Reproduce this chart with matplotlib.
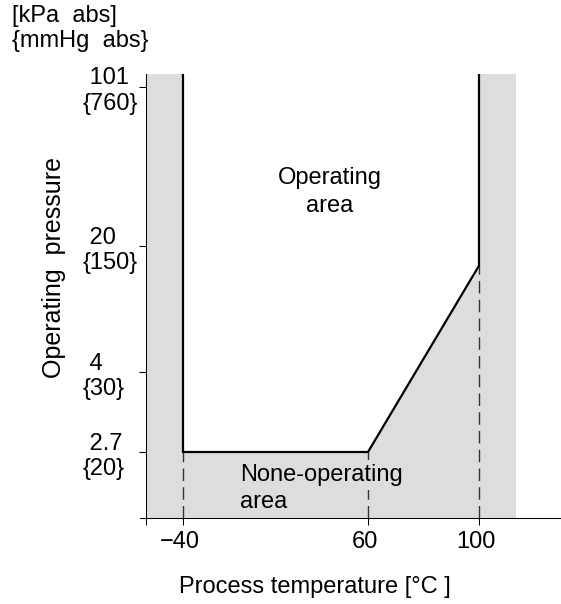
import numpy as np
import matplotlib
matplotlib.use("Agg")
import matplotlib.pyplot as plt
from matplotlib.transforms import ScaledTranslation

plt.rcParams['font.family'] = ['Liberation Sans', 'DejaVu Sans']
plt.rcParams['font.size'] = 17

# boundary of the operating area (temperature in degC, pressure in kPa abs)
boundary_temp = [-40, -40, 60, 100, 100]
boundary_kpa = [110, 2.7, 2.7, 17.5, 110]

kpa_ticks = [2.7, 4, 20, 101]
mmhg_ticks = [20, 30, 150, 760]
temp_ticks = [-60, -40, 60, 100]
temp_labels = ['', '\u221240', '60', '100']

# the original chart is schematic, so both axes are piecewise linear
# through these anchor points (value -> pixel position)
temp_anchor = [-66, -60, -40, 60, 100, 113, 130]
temp_pos = [140, 146, 183, 368, 479, 516, 561]
kpa_anchor = [2.0, 2.7, 4, 20, 101, 110]
kpa_pos = [86, 152, 232, 358, 517, 530]

W, H = 561, 604
fig = plt.figure(figsize=(W / 100, H / 100), dpi=100)
ax = fig.add_axes([140 / W, 86 / H, 421 / W, 444 / H])


def t_fwd(t):
    return np.interp(t, temp_anchor, temp_pos)


def t_inv(p):
    return np.interp(p, temp_pos, temp_anchor)


def p_fwd(p):
    return np.interp(p, kpa_anchor, kpa_pos)


def p_inv(p):
    return np.interp(p, kpa_pos, kpa_anchor)


ax.set_xscale('function', functions=(t_fwd, t_inv))
ax.set_yscale('function', functions=(p_fwd, p_inv))
ax.set_xlim(temp_anchor[0], temp_anchor[-1])
ax.set_ylim(kpa_anchor[0], kpa_anchor[-1])

# grey = non-operating, white polygon = operating area
ax.axvspan(temp_anchor[1], temp_anchor[-2], color='#dddddd', lw=0, zorder=0)
ax.fill(boundary_temp, boundary_kpa, color='white', lw=0, zorder=1)
ax.plot(boundary_temp, boundary_kpa, color='black', lw=1.6, zorder=4,
        solid_joinstyle='miter')

# dashed drop lines from the corners
ax.vlines(boundary_temp[1:4], kpa_anchor[0], boundary_kpa[1:4],
          colors='#333333', linestyles=(0, (9, 4.5)), lw=1, zorder=2)

ax.text(0.4513, (518 - 184) / 444, 'Operating', transform=ax.transAxes,
        ha='center', va='baseline')
ax.text(0.4513, (518 - 212.5) / 444, 'area', transform=ax.transAxes,
        ha='center', va='baseline')
ax.text((240 - 140) / 421, (518 - 481) / 444, 'None-operating',
        transform=ax.transAxes, ha='left', va='baseline', zorder=3,
        bbox=dict(fc='#dddddd', ec='none', pad=2.5))
ax.text((240 - 140) / 421, (518 - 508.3) / 444, 'area',
        transform=ax.transAxes, ha='left', va='baseline', zorder=3)

# axes styling
for s in ['top', 'right']:
    ax.spines[s].set_visible(False)
ax.spines['left'].set_position(('data', temp_anchor[1]))
ax.spines['left'].set_linewidth(0.75)
ax.spines['bottom'].set_linewidth(0.75)

ax.set_xticks(temp_ticks)
ax.set_xticklabels(temp_labels)
ax.set_yticks(kpa_ticks)
ax.set_yticklabels([f' {k}\n{{{m}}}' for k, m in zip(kpa_ticks, mmhg_ticks)],
                   ha='left', ma='left')
ax.minorticks_off()
ax.tick_params(length=5, width=0.75, direction='out')
ax.tick_params(axis='x', pad=4)
ax.tick_params(axis='y', pad=40.4)

shift = ScaledTranslation(-3 / 100, 0, fig.dpi_scale_trans)
for lab in ax.get_xticklabels():
    lab.set_transform(lab.get_transform() + shift)

fig.text(12 / W, 1 - 5 / H, '[kPa  abs]\n{mmHg  abs}', ha='left', va='top')
fig.text(54 / W, 1 - 268 / H, 'Operating  pressure', rotation=90,
         ha='center', va='center', fontsize=18)
fig.text(315 / W, 1 - 593 / H, 'Process temperature [\u00b0C ]',
         ha='center', va='baseline')

fig.savefig('out.png', dpi=100)
